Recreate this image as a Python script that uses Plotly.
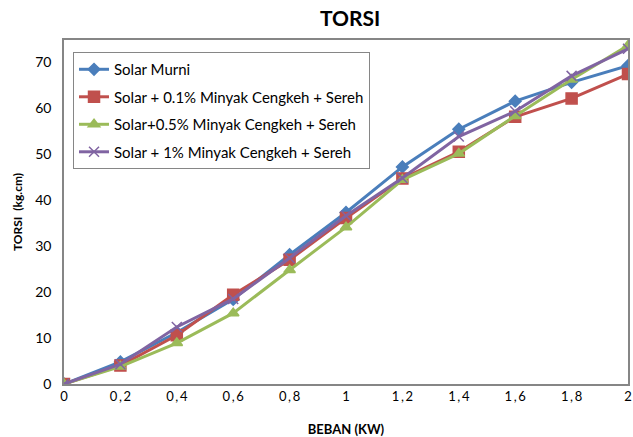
import plotly.graph_objects as go

beban = [0, 0.2, 0.4, 0.6, 0.8, 1.0, 1.2, 1.4, 1.6, 1.8, 2.0]
x_labels = ["0", "0\u2009,\u20092", "0\u2009,\u20094", "0\u2009,\u20096", "0\u2009,\u20098", "1",
            "1\u2009,\u20092", "1\u2009,\u20094", "1\u2009,\u20096", "1\u2009,\u20098", "2"]

solar_murni = [0, 4.8, 11.2, 18.4, 28.1, 37.3, 47.2, 55.4, 61.5, 65.6, 69.2]
solar_01 = [0, 4.0, 10.6, 19.4, 27.0, 36.1, 44.7, 50.5, 58.1, 62.1, 67.4]
solar_05 = [0, 3.8, 8.9, 15.4, 24.8, 34.1, 44.4, 50.1, 58.3, 66.2, 73.6]
solar_1 = [0, 4.3, 12.4, 18.5, 27.4, 36.6, 44.8, 53.8, 59.3, 67.0, 72.9]

names = ["Solar Murni", "Solar + 0.1% Minyak Cengkeh + Sereh",
         "Solar+0.5% Minyak Cengkeh + Sereh", "Solar + 1% Minyak Cengkeh + Sereh"]
series = [solar_murni, solar_01, solar_05, solar_1]
colors = ["#4A7EBB", "#C0504D", "#9BBB59", "#8064A2"]
symbols = ["diamond", "square", "triangle-up", "x-thin-open"]
sizes = [9, 11, 10, 10]

fig = go.Figure()
for i, (n, s, c, sym, sz) in enumerate(zip(names, series, colors, symbols, sizes)):
    fig.add_trace(go.Scatter(
        x=beban, y=s, name=n, mode="lines+markers",
        legendgroup=f"g{i}",
        line=dict(color=c, width=3),
        marker=dict(symbol=sym, size=sz, color=c, line=dict(color=c, width=1.5)),
    ))

font_family = "Lato, Open Sans, sans-serif"
fig.update_layout(
    width=633, height=437,
    margin=dict(l=64, r=5, t=40, b=53),
    paper_bgcolor="white", plot_bgcolor="white",
    font=dict(family=font_family, color="#262626"),
    title=dict(text="<b>TORSI</b>", x=0.553, xanchor="center", y=0.958, yanchor="middle",
               font=dict(size=21, color="#000000", family=font_family)),
    legend=dict(x=0.016, y=0.965, xanchor="left", yanchor="top",
                bordercolor="#868686", borderwidth=1, bgcolor="white",
                font=dict(size=15, color="#000000", family=font_family),
                tracegroupgap=5),
    showlegend=True,
)
fig.update_xaxes(
    range=[0, 2], tickvals=beban, ticktext=x_labels, automargin=False,
    ticklabeloverflow="allow",
    showgrid=False, zeroline=False, showline=True, linecolor="#868686", linewidth=1.5,
    mirror=True, ticks="", tickfont=dict(size=13, color="#000000"),
    title=dict(text="<b>BEBAN (KW)</b>", font=dict(size=13, color="#000000"), standoff=32),
)
fig.update_yaxes(
    range=[0, 74.8], tickvals=[0, 10, 20, 30, 40, 50, 60, 70], automargin=False,
    ticklabeloverflow="allow",
    showgrid=False, zeroline=False, showline=True, linecolor="#868686", linewidth=1.5,
    mirror=True, ticks="", tickfont=dict(size=14, color="#000000"), ticklabelstandoff=8,
    title=dict(text="<b>TORSI  (kg.cm)</b>", font=dict(size=12, color="#000000"), standoff=10),
)

fig.write_html("out.html")
